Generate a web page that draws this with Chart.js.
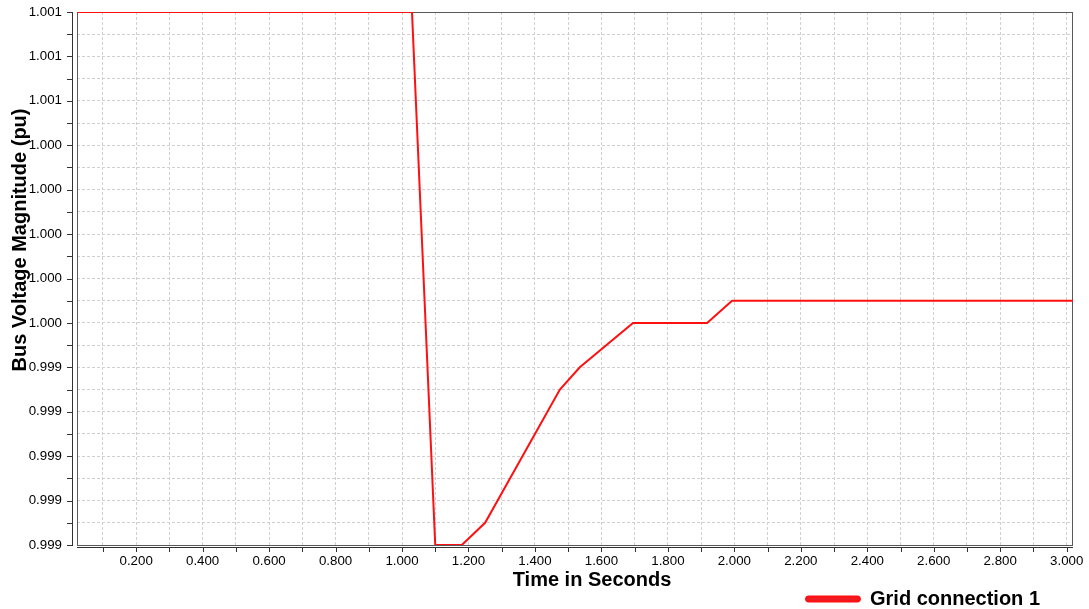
<!DOCTYPE html>
<html>
<head>
<meta charset="utf-8">
<script src="https://cdn.jsdelivr.net/npm/chart.js@4/dist/chart.umd.min.js"></script>
<style>
  html, body { margin: 0; padding: 0; background: #fff; }
  canvas { display: block; }
</style>
</head>
<body>
<canvas id="voltChart" width="1089" height="609"></canvas>
<script>
const timeS = [0.0, 1.03, 1.10, 1.18, 1.25, 1.475, 1.535, 1.695, 1.918, 1.993, 3.02];
const voltagePu = [1.0010, 1.0010, 0.9986, 0.9986, 0.9987, 0.9993, 0.9994, 0.9996, 0.9996, 0.9997, 0.9997];

const xTickLabels = ['0.200', '0.400', '0.600', '0.800', '1.000', '1.200', '1.400', '1.600',
    '1.800', '2.000', '2.200', '2.400', '2.600', '2.800', '3.000'];
// bottom to top
const yTickLabels = ['0.999', '0.999', '0.999', '0.999', '0.999', '1.000', '1.000',
    '1.000', '1.000', '1.000', '1.001', '1.001', '1.001'];

const X_MIN = 0.022, X_MAX = 3.019;
const Y_MIN = 0.9986, Y_MAX = 1.0010;
const FONT = '"Liberation Sans", Arial, sans-serif';

// plot frame, offset axis lines with their tick marks, axis titles
const framePlugin = {
    id: 'frame',
    afterLayout(chart) {
        // legend sits a bit left of the plot's right edge in the original
        chart.legend.left -= 13;
        chart.legend.right -= 13;
    },
    beforeDatasetsDraw(chart) {
        const { ctx, chartArea: a, scales: { x, y } } = chart;
        ctx.save();
        ctx.lineWidth = 1;
        ctx.strokeStyle = '#5a5a5a';
        ctx.strokeRect(a.left + 0.5, a.top + 0.5, a.right - a.left - 1, a.bottom - a.top);

        ctx.strokeStyle = '#333';
        ctx.beginPath();
        ctx.moveTo(a.left - 4.5, a.top);
        ctx.lineTo(a.left - 4.5, a.bottom + 1);
        y.ticks.forEach(t => {
            const py = Math.round(y.getPixelForValue(t.value)) + 0.5;
            ctx.moveTo(a.left - 10, py);
            ctx.lineTo(a.left - 4, py);
        });
        ctx.moveTo(a.left, a.bottom + 2.5);
        ctx.lineTo(a.right, a.bottom + 2.5);
        x.ticks.forEach(t => {
            const px = Math.round(x.getPixelForValue(t.value)) + 0.5;
            ctx.moveTo(px, a.bottom + 3);
            ctx.lineTo(px, a.bottom + 7);
        });
        ctx.stroke();
        ctx.restore();
    },
    afterDraw(chart) {
        const { ctx } = chart;
        ctx.save();
        ctx.fillStyle = '#000';
        ctx.font = 'bold 20px ' + FONT;
        ctx.textAlign = 'center';
        ctx.textBaseline = 'middle';
        ctx.fillText('Time in Seconds', 592, 580);
        ctx.translate(20, 240);
        ctx.rotate(-Math.PI / 2);
        ctx.fillText('Bus Voltage Magnitude (pu)', 0, 0);
        ctx.restore();
    }
};

new Chart(document.getElementById('voltChart'), {
    type: 'line',
    data: {
        datasets: [{
            label: 'Grid connection 1',
            data: timeS.map((t, i) => ({ x: t, y: voltagePu[i] })),
            borderColor: 'rgb(255, 16, 16)',
            backgroundColor: 'rgb(240, 28, 36)',
            borderWidth: 2,
            pointRadius: 0,
            tension: 0
        }]
    },
    options: {
        responsive: false,
        animation: false,
        devicePixelRatio: 1,
        layout: { padding: { top: 12, right: 16, bottom: -10, left: 0 } },
        plugins: {
            tooltip: { enabled: false },
            legend: {
                position: 'bottom',
                align: 'end',
                labels: {
                    boxWidth: 54,
                    boxHeight: 5,
                    padding: 20,
                    useBorderRadius: true,
                    borderRadius: 3,
                    color: '#000',
                    font: { family: FONT, size: 20, weight: 'bold' }
                }
            }
        },
        scales: {
            x: {
                type: 'linear',
                min: X_MIN,
                max: X_MAX,
                afterFit(scale) {
                    scale.height = 24;
                    scale.paddingLeft = 0;
                    scale.paddingRight = 0;
                },
                grid: { color: '#d0d0d0', lineWidth: 1, drawTicks: false },
                border: { display: false, dash: [3, 2] },
                ticks: {
                    stepSize: 0.1,
                    includeBounds: false,
                    autoSkip: false,
                    maxRotation: 0,
                    padding: 8,
                    color: '#000',
                    font: { family: FONT, size: 13.3 },
                    callback(value) {
                        const n = Math.round(value * 10);
                        return n % 2 === 0 ? xTickLabels[n / 2 - 1] : '';
                    }
                }
            },
            y: {
                min: Y_MIN,
                max: Y_MAX,
                afterFit(scale) {
                    scale.width = 77;
                    scale.paddingTop = 0;
                    scale.paddingBottom = 0;
                },
                grid: { color: '#d0d0d0', lineWidth: 1, drawTicks: false },
                border: { display: false, dash: [3, 2] },
                ticks: {
                    stepSize: 0.0001,
                    autoSkip: false,
                    padding: 15,
                    color: '#000',
                    font: { family: FONT, size: 13.3 },
                    callback(value) {
                        const n = Math.round((value - Y_MIN) / 0.0001);
                        return n % 2 === 0 ? yTickLabels[n / 2] : '';
                    }
                }
            }
        }
    },
    plugins: [framePlugin]
});
</script>
</body>
</html>
